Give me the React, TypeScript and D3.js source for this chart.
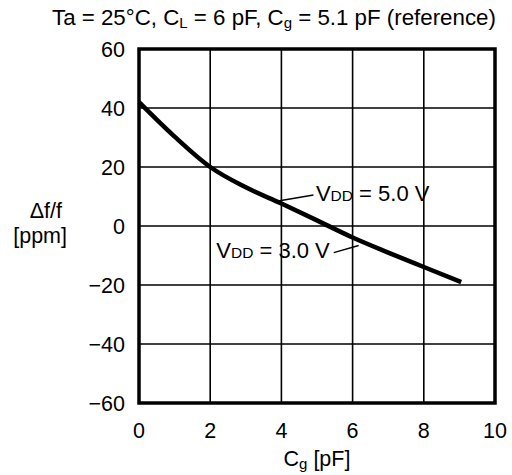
import React from "react";
import * as d3 from "d3";

const cgValues = [0, 1, 2, 3, 4, 5, 6, 7, 8, 9.05];
const dfValues = [42, 30.3, 20, 13.1, 7.6, 1.9, -3.9, -9.0, -13.9, -19];
const xTicks = [0, 2, 4, 6, 8, 10];
const yTicks = [-60, -40, -20, 0, 20, 40, 60];
const labels = [
  { text: "5.0", x: 4.97, y: 8.5, fromX: 4.9, fromY: 10.5, toX: 3.87, toY: 8.4 },
  { text: "3.0", x: 2.17, y: -11, fromX: 5.47, fromY: -9.0, toX: 6.17, toY: -6.6 },
];

const W = 512;
const H = 475;
const FONT = "'Liberation Sans', Arial, Helvetica, sans-serif";

export default function App() {
  const x = d3.scaleLinear().domain([0, 10]).range([139, 495]);
  const y = d3.scaleLinear().domain([-60, 60]).range([403, 49]);
  const pts = cgValues.map((c, i) => [c, dfValues[i]] as [number, number]);
  const line = d3
    .line<[number, number]>()
    .x((d) => x(d[0]))
    .y((d) => y(d[1]))
    .curve(d3.curveMonotoneX);
  const fmt = (v: number) => (v < 0 ? "\u2212" + Math.abs(v) : String(v));

  return (
    <svg
      width={W}
      height={H}
      style={{ position: "absolute", left: 0, top: 0, background: "#fff" }}
      fontFamily={FONT}
    >
      <rect x={0} y={0} width={W} height={H} fill="#fff" />
      {/* grid */}
      {xTicks.slice(1, -1).map((t) => (
        <line key={"gx" + t} x1={x(t)} x2={x(t)} y1={y(-60)} y2={y(60)} stroke="#000" strokeWidth={1.6} />
      ))}
      {yTicks.slice(1, -1).map((t) => (
        <line key={"gy" + t} x1={x(0)} x2={x(10)} y1={y(t)} y2={y(t)} stroke="#000" strokeWidth={1.6} />
      ))}
      {/* frame */}
      <rect
        x={x(0)}
        y={y(60)}
        width={x(10) - x(0)}
        height={y(-60) - y(60)}
        fill="none"
        stroke="#000"
        strokeWidth={3.5}
      />
      {/* curve */}
      <path d={line(pts) || ""} fill="none" stroke="#000" strokeWidth={4.5} strokeLinejoin="round" />
      {/* leaders and labels */}
      {labels.map((l) => (
        <g key={l.text}>
          <line
            x1={x(l.fromX)}
            y1={y(l.fromY)}
            x2={x(l.toX)}
            y2={y(l.toY)}
            stroke="#000"
            strokeWidth={1.4}
          />
          <text x={x(l.x)} y={y(l.y)} fontSize={22} fill="#000">
            V<tspan fontSize={15.5}>DD</tspan> = {l.text} V
          </text>
        </g>
      ))}
      {/* y tick labels */}
      {yTicks.map((t) => (
        <text key={"ty" + t} x={125} y={y(t) + 7.5} fontSize={21.5} textAnchor="end" fill="#000">
          {fmt(t)}
        </text>
      ))}
      {/* x tick labels */}
      {xTicks.map((t) => (
        <text key={"tx" + t} x={x(t)} y={438} fontSize={21.5} textAnchor="middle" fill="#000">
          {t}
        </text>
      ))}
      {/* x title */}
      <text x={(x(0) + x(10)) / 2} y={466} fontSize={21.5} textAnchor="middle" fill="#000">
        C<tspan fontSize={15} dy={3}>g</tspan>
        <tspan dy={-3}> [pF]</tspan>
      </text>
      {/* y title */}
      <text x={62} y={218} fontSize={21.5} textAnchor="end" fill="#000">
        {"\u0394f/f"}
      </text>
      <text x={67} y={243} fontSize={21.5} textAnchor="end" fill="#000">
        [ppm]
      </text>
      {/* title */}
      <text x={52} y={25} fontSize={22.3} fill="#000">
        Ta = 25°C, C<tspan fontSize={15} dy={3}>L</tspan>
        <tspan dy={-3}> = 6 pF, C</tspan>
        <tspan fontSize={15} dy={3}>g</tspan>
        <tspan dy={-3}> = 5.1 pF (reference)</tspan>
      </text>
    </svg>
  );
}
